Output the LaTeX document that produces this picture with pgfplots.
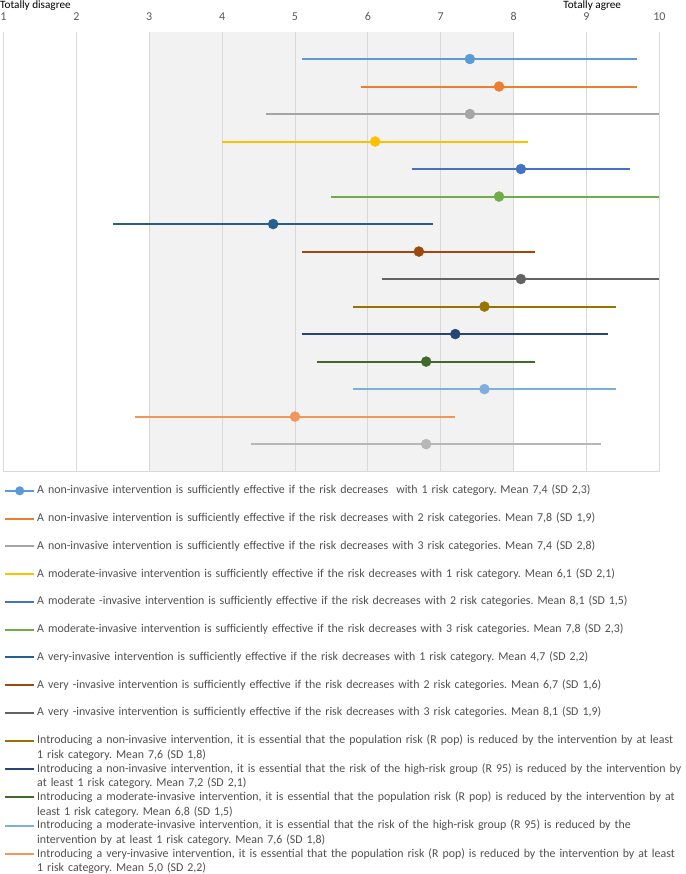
\documentclass[border=0pt]{standalone}
\usepackage{fontspec}
\setmainfont{Carlito}
\newfontfamily\legfont{Carlito}[FakeStretch=0.99]
\usepackage{pgfplots}
\pgfplotsset{compat=1.18}
\frenchspacing
\definecolor{c1}{HTML}{5B9BD5}
\definecolor{c2}{HTML}{ED7D31}
\definecolor{c3}{HTML}{A5A5A5}
\definecolor{c4}{HTML}{FFC000}
\definecolor{c5}{HTML}{4472C4}
\definecolor{c6}{HTML}{70AD47}
\definecolor{c7}{HTML}{255E91}
\definecolor{c8}{HTML}{9E480E}
\definecolor{c9}{HTML}{636363}
\definecolor{c10}{HTML}{997300}
\definecolor{c11}{HTML}{264478}
\definecolor{c12}{HTML}{43682B}
\definecolor{c13}{HTML}{7CAFDD}
\definecolor{c14}{HTML}{F1975A}
\definecolor{c15}{HTML}{B7B7B7}
\definecolor{band}{HTML}{F2F2F2}
\definecolor{gridgray}{HTML}{D9D9D9}
\definecolor{tickgray}{HTML}{595959}
\definecolor{legendgray}{HTML}{505050}
\newcommand{\sstrut}{\rule[-17.25pt]{0pt}{27.75pt}}
\newcommand{\hstrut}{\rule{0pt}{10.5pt}}
\newcommand{\dstrut}{\rule[-3.3pt]{0pt}{3.3pt}}
\begin{document}
\begin{tikzpicture}
\begin{axis}[
  set layers, clip=false,
  scale only axis, width=655.7pt, height=440pt,
  xmin=1, xmax=10, ymin=0, ymax=16,
  xtick={1,2,3,4,5,6,7,8,9,10}, ytick=\empty,
  xticklabel pos=upper,
  xmajorgrids, grid style={draw=gridgray, line width=0.75pt},
  axis line style={draw=none},
  major tick length=0pt,
  /pgf/number format/assume math mode=true,
  xticklabel style={font=\fontsize{12}{14}\selectfont, text=tickgray, inner sep=0pt, anchor=south, yshift=10.8pt},
  legend style={at={(0,0)}, anchor=north west, xshift=0.5pt, yshift=-11.5pt,
    draw=none, fill=none, inner sep=0pt, row sep=0pt, column sep=2pt,
    font=\legfont\fontsize{12}{14.6}\selectfont, text=legendgray,
    cells={anchor=base west},
    nodes={inner sep=0pt, text depth=, text height=, text width=700pt, align=left}},
  legend image code/.code={\draw[mark repeat=2,mark phase=2,yshift=3pt,#1] plot coordinates {(0pt,0pt) (14.5pt,0pt) (29pt,0pt)};},
]
\addplot[on layer=axis background, fill=band, draw=none, forget plot] coordinates {(3,0) (3,16) (8,16) (8,0)} -- cycle;

\addplot[c1, line width=2pt, legend image post style={mark=*, mark size=3.5pt}] coordinates {(5.1,15) (9.7,15)};
\addlegendentry{\sstrut A non-invasive intervention is sufficiently effective if the risk decreases\ \ with 1 risk category. Mean 7,4 (SD 2,3)}
\addplot[c1, only marks, mark=*, mark size=5pt, forget plot] coordinates {(7.4,15)};

\addplot[c2, line width=2pt] coordinates {(5.9,14) (9.7,14)};
\addlegendentry{\sstrut A non-invasive intervention is sufficiently effective if the risk decreases with 2 risk categories. Mean 7,8 (SD 1,9)}
\addplot[c2, only marks, mark=*, mark size=5pt, forget plot] coordinates {(7.8,14)};

\addplot[c3, line width=2pt] coordinates {(4.6,13) (10,13)};
\addlegendentry{\sstrut A non-invasive intervention is sufficiently effective if the risk decreases with 3 risk categories. Mean 7,4 (SD 2,8)}
\addplot[c3, only marks, mark=*, mark size=5pt, forget plot] coordinates {(7.4,13)};

\addplot[c4, line width=2pt] coordinates {(4.0,12) (8.2,12)};
\addlegendentry{\sstrut A moderate-invasive intervention is sufficiently effective if the risk decreases with 1 risk category. Mean 6,1 (SD 2,1)}
\addplot[c4, only marks, mark=*, mark size=5pt, forget plot] coordinates {(6.1,12)};

\addplot[c5, line width=2pt] coordinates {(6.6,11) (9.6,11)};
\addlegendentry{\sstrut A moderate -invasive intervention is sufficiently effective if the risk decreases with 2 risk categories. Mean 8,1 (SD 1,5)}
\addplot[c5, only marks, mark=*, mark size=5pt, forget plot] coordinates {(8.1,11)};

\addplot[c6, line width=2pt] coordinates {(5.5,10) (10,10)};
\addlegendentry{\sstrut A moderate-invasive intervention is sufficiently effective if the risk decreases with 3 risk categories. Mean 7,8 (SD 2,3)}
\addplot[c6, only marks, mark=*, mark size=5pt, forget plot] coordinates {(7.8,10)};

\addplot[c7, line width=2pt] coordinates {(2.5,9) (6.9,9)};
\addlegendentry{\sstrut A very-invasive intervention is sufficiently effective if the risk decreases with 1 risk category. Mean 4,7 (SD 2,2)}
\addplot[c7, only marks, mark=*, mark size=5pt, forget plot] coordinates {(4.7,9)};

\addplot[c8, line width=2pt] coordinates {(5.1,8) (8.3,8)};
\addlegendentry{\sstrut A very -invasive intervention is sufficiently effective if the risk decreases with 2 risk categories. Mean 6,7 (SD 1,6)}
\addplot[c8, only marks, mark=*, mark size=5pt, forget plot] coordinates {(6.7,8)};

\addplot[c9, line width=2pt] coordinates {(6.2,7) (10,7)};
\addlegendentry{\sstrut A very -invasive intervention is sufficiently effective if the risk decreases with 3 risk categories. Mean 8,1 (SD 1,9)}
\addplot[c9, only marks, mark=*, mark size=5pt, forget plot] coordinates {(8.1,7)};

\addplot[c10, line width=2pt] coordinates {(5.8,6) (9.4,6)};
\addlegendentry{\hstrut Introducing a non-invasive intervention, it is essential that the population risk (R pop) is reduced by the intervention by at least\\1 risk category. Mean 7,6 (SD 1,8)\dstrut}
\addplot[c10, only marks, mark=*, mark size=5pt, forget plot] coordinates {(7.6,6)};

\addplot[c11, line width=2pt] coordinates {(5.1,5) (9.3,5)};
\addlegendentry{\hstrut Introducing a non-invasive intervention, it is essential that the risk of the high-risk group (R 95) is reduced by the intervention by\\at least 1 risk category. Mean 7,2 (SD 2,1)\dstrut}
\addplot[c11, only marks, mark=*, mark size=5pt, forget plot] coordinates {(7.2,5)};

\addplot[c12, line width=2pt] coordinates {(5.3,4) (8.3,4)};
\addlegendentry{\hstrut Introducing a moderate-invasive intervention, it is essential that the population risk (R pop) is reduced by the intervention by at\\least 1 risk category. Mean 6,8 (SD 1,5)\dstrut}
\addplot[c12, only marks, mark=*, mark size=5pt, forget plot] coordinates {(6.8,4)};

\addplot[c13, line width=2pt] coordinates {(5.8,3) (9.4,3)};
\addlegendentry{\hstrut Introducing a moderate-invasive intervention, it is essential that the risk of the high-risk group (R 95) is reduced by the\\intervention by at least 1 risk category. Mean 7,6 (SD 1,8)\dstrut}
\addplot[c13, only marks, mark=*, mark size=5pt, forget plot] coordinates {(7.6,3)};

\addplot[c14, line width=2pt] coordinates {(2.8,2) (7.2,2)};
\addlegendentry{\hstrut Introducing a very-invasive intervention, it is essential that the population risk (R pop) is reduced by the intervention by at least\\1 risk category. Mean 5,0 (SD 2,2)\dstrut}
\addplot[c14, only marks, mark=*, mark size=5pt, forget plot] coordinates {(5.0,2)};

\addplot[c15, line width=2pt, forget plot] coordinates {(4.4,1) (9.2,1)};
\addplot[c15, only marks, mark=*, mark size=5pt, forget plot] coordinates {(6.8,1)};

\draw[gridgray, line width=0.75pt] (rel axis cs:0,0) -- (rel axis cs:1,0);
\node[anchor=base west, inner sep=0pt, font=\fontsize{11.2}{13}\selectfont, text=black] at ([xshift=-3.5pt, yshift=23.4pt]rel axis cs:0,1) {Totally disagree};
\node[anchor=base west, inner sep=0pt, font=\fontsize{11.2}{13}\selectfont, text=black] at ([xshift=559.5pt, yshift=23.4pt]rel axis cs:0,1) {Totally agree};
\end{axis}
\pgfresetboundingbox
\useasboundingbox (-3.5pt,-402.3pt) rectangle (681.5pt,471.5pt);
\end{tikzpicture}
\end{document}
